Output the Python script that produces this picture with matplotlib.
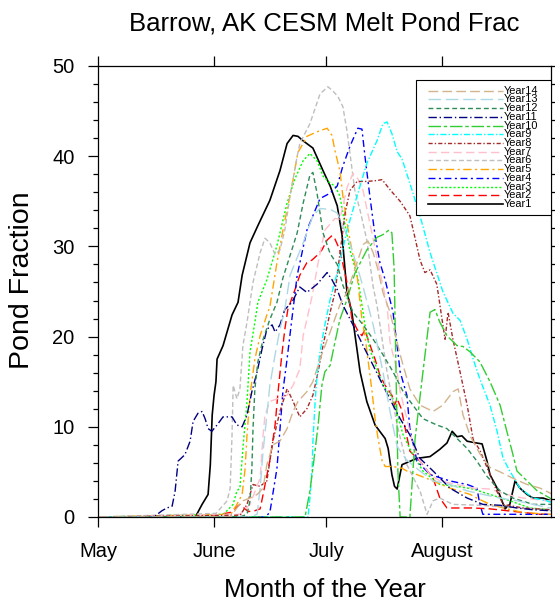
import matplotlib
matplotlib.use("Agg")
import matplotlib.pyplot as plt
from matplotlib.patches import Rectangle
from matplotlib.ticker import MultipleLocator

plt.rcParams['font.family'] = ['Liberation Sans', 'DejaVu Sans']

# day index from May 1, pond fraction in percent
year1_day = [0, 26, 27.8, 29.4, 30.0, 30.5, 31.0, 31.5, 31.8, 33.4, 35.8, 37.4, 38.5, 40.6, 42.7, 45.9, 48.6, 50.5, 52.1, 53.4,
             54.8, 57.4, 60.1, 62.0, 63.9, 65.2, 66.5, 67.8, 70.0, 71.8, 74.0, 76.7, 77.5, 78.5, 79.2, 79.9, 81.2, 85.2, 88.7, 91.3,
             93.2, 94.6, 95.9, 97.2, 98.6, 101.2, 102.6, 103.9, 104.7, 106.6, 107.9, 108.7, 110.0, 111.4, 112.7, 114.6, 116.2, 118.9, 121]
year1_val = [0, 0, 1.4, 2.5, 5.8, 11.3, 13.5, 15.0, 17.5, 19.0, 22.4, 23.8, 26.8, 30.4, 32.3, 35.1, 38.4, 41.4, 42.3, 42.2,
             41.7, 40.9, 38.4, 36.7, 34.5, 31.2, 24.9, 22.7, 16.1, 12.8, 10.2, 8.7, 7.6, 4.7, 3.4, 3.1, 5.8, 6.5, 6.7, 7.5,
             8.2, 9.5, 8.9, 9.0, 8.4, 8.2, 8.1, 6.2, 4.7, 3.2, 1.8, 0.9, 1.4, 4.0, 3.2, 2.5, 2.1, 2.1, 1.8]

year2_day = [0, 28.6, 35.3, 37.9, 40.1, 41.9, 43.3, 44.1, 46.0, 47.3, 48.1, 49.1, 49.9, 50.7, 52.6, 53.9, 55.8, 57.2, 58.5, 59.8,
             61.2, 62.5, 63.3, 64.6, 66.5, 67.8, 69.2, 70.5, 71.3, 72.1, 74.0, 75.3, 76.7, 78.5, 79.2, 79.9, 81.0, 83.3, 86.0, 89.5,
             91.3, 93.2, 100.2, 104.7, 109.2, 118.0, 121]
year2_val = [0, 0, 0.5, 1.4, 0.6, 0.7, 0.9, 2.5, 6.5, 10.2, 13.9, 18.0, 20.8, 23.0, 25.2, 26.8, 28.2, 28.5, 29.0, 29.6,
             30.7, 31.2, 30.8, 29.6, 26.0, 22.0, 20.8, 20.1, 20.8, 19.7, 17.5, 15.7, 14.6, 13.5, 12.4, 13.1, 12.0, 7.3, 6.2, 4.3,
             2.1, 1.0, 1.0, 0.9, 0.7, 0.3, 0.3]

year3_day = [0, 33.5, 36.1, 37.1, 37.9, 38.7, 39.8, 40.6, 41.9, 42.7, 45.1, 47.8, 49.4, 50.5, 52.6, 54.8, 56.6, 58.5, 60.1, 62.0,
             63.3, 64.6, 65.9, 67.3, 69.2, 70.0, 71.3, 72.6, 74.5, 76.1, 78.8, 81.5, 84.1, 86.8, 91.3, 95.9, 100.2, 104.7, 110.0, 115.4,
             121]
year3_val = [0, 0.3, 1.4, 2.9, 3.2, 7.6, 12.8, 18.3, 21.6, 23.8, 26.3, 30.1, 32.9, 34.8, 37.5, 39.5, 40.3, 39.5, 37.8, 37.0,
             36.7, 35.6, 32.6, 29.6, 26.8, 24.9, 21.3, 18.6, 16.4, 14.6, 13.1, 9.1, 6.9, 5.1, 3.6, 3.4, 3.1, 2.5, 1.8, 1.0,
             0.8]

year4_day = [0, 44.6, 45.9, 47.8, 49.4, 50.5, 51.8, 53.2, 55.8, 59.3, 62.0, 63.9, 65.4, 67.3, 69.4, 70.5, 71.3, 72.6, 74.0, 75.3,
             76.7, 77.5, 78.8, 80.1, 80.7, 82.5, 83.3, 85.2, 88.7, 94.0, 98.6, 101.2, 102.0, 102.8, 121]
year4_val = [0, 0, 0.5, 5.4, 14.0, 17.5, 22.0, 26.8, 31.8, 35.3, 35.9, 36.7, 38.9, 41.1, 43.1, 43.0, 40.0, 35.6, 31.2, 28.2,
             26.3, 24.9, 22.7, 18.3, 16.1, 13.5, 9.8, 6.2, 4.7, 4.0, 3.6, 3.2, 1.4, 0.3, 0.3]

year5_day = [0, 35.5, 37.1, 38.5, 39.3, 39.8, 40.6, 41.9, 43.3, 45.1, 45.9, 47.8, 49.4, 51.8, 53.4, 55.8, 58.5, 61.2, 62.5, 63.3,
             64.6, 65.4, 66.5, 67.8, 69.2, 70.5, 71.3, 72.1, 73.2, 74.0, 74.8, 75.9, 76.7, 78.8, 81.2, 82.5, 85.2, 89.5, 94.0, 99.4,
             101.2, 104.7, 109.2, 113.5, 121]
year5_val = [0, 0.3, 1.4, 2.5, 5.4, 9.1, 13.5, 17.5, 20.1, 22.4, 23.3, 28.2, 31.8, 36.7, 40.4, 42.2, 42.7, 43.1, 42.3, 40.6,
             38.4, 35.6, 32.6, 29.6, 26.8, 21.9, 20.1, 17.5, 13.9, 10.9, 8.7, 6.2, 5.6, 5.6, 5.4, 5.1, 4.7, 4.0, 3.2, 2.5,
             2.1, 1.4, 0.9, 0.5, 0.3]

year6_day = [0, 31.5, 34.5, 35.3, 35.8, 36.1, 37.1, 37.9, 38.7, 39.8, 41.4, 43.3, 44.6, 45.9, 47.3, 48.6, 49.9, 51.3, 53.2, 53.9,
             56.6, 59.3, 61.4, 62.8, 64.1, 65.4, 66.5, 67.3, 68.6, 70.0, 71.8, 73.5, 74.5, 77.2, 79.9, 82.5, 86.0, 87.9, 89.5, 91.3,
             94.8, 102.0, 112.7, 121]
year6_val = [0, 0.4, 1.8, 3.2, 9.1, 14.6, 13.1, 14.2, 19.0, 21.6, 26.0, 29.3, 30.9, 30.4, 29.1, 29.6, 31.8, 35.6, 40.0, 41.4,
             43.6, 46.9, 47.7, 47.2, 46.6, 45.5, 42.8, 40.3, 36.2, 34.0, 30.7, 25.5, 23.5, 16.1, 10.2, 5.8, 2.9, 0.3, 1.8, 2.1,
             1.4, 1.3, 1.0, 0.8]

year7_day = [0, 37.9, 40.6, 43.3, 44.1, 44.6, 45.9, 47.8, 50.5, 52.1, 53.9, 54.8, 57.2, 58.8, 60.6, 63.3, 64.6, 66.5, 68.1, 69.4,
             70.8, 72.6, 74.8, 77.2, 78.0, 79.9, 80.7, 82.5, 84.1, 86.0, 88.7, 91.3, 95.9, 100.2, 104.7, 109.2, 113.5, 119.9, 121]
year7_val = [0, 0.3, 1.4, 4.3, 9.1, 11.3, 12.8, 13.1, 13.5, 14.6, 16.4, 20.1, 24.5, 28.2, 31.8, 33.1, 33.0, 36.5, 38.1, 37.5,
             36.2, 32.6, 28.2, 23.5, 19.4, 16.1, 13.9, 10.9, 8.0, 6.2, 4.7, 4.0, 3.6, 3.2, 3.1, 2.5, 2.1, 1.8, 1.8]

year8_day = [0, 38.0, 39.8, 41.4, 43.3, 45.1, 46.7, 48.6, 50.5, 51.8, 53.9, 55.8, 57.4, 58.8, 60.1, 62.0, 63.3, 66.0, 67.3, 69.2,
             71.8, 74.5, 75.9, 77.2, 78.8, 80.7, 83.3, 84.7, 86.0, 87.3, 88.7, 90.5, 91.9, 92.7, 93.5, 94.8, 96.7, 98.6, 100.2, 102.0,
             103.9, 106.6, 108.2, 113.5, 121]
year8_val = [0, 0.2, 1.4, 3.6, 3.4, 4.0, 8.4, 11.7, 14.2, 13.1, 11.1, 12.0, 13.5, 16.1, 19.0, 22.7, 24.9, 33.7, 36.2, 37.2,
             37.2, 37.3, 37.4, 36.7, 35.9, 35.0, 33.4, 30.9, 28.5, 27.1, 27.4, 25.8, 21.9, 19.7, 22.7, 19.7, 16.1, 12.4, 8.6, 7.4,
             5.5, 2.8, 1.4, 1.0, 0.8]

year9_day = [0, 56.1, 56.6, 57.2, 57.4, 58.0, 58.5, 59.3, 60.6, 62.0, 64.6, 66.5, 69.2, 71.8, 74.5, 76.1, 77.2, 78.5, 79.9, 81.2,
             83.3, 86.0, 88.7, 92.1, 94.8, 96.7, 98.6, 100.2, 102.0, 104.7, 106.6, 108.2, 110.0, 112.7, 116.2, 119.9, 121]
year9_val = [0, 0, 2.1, 5.4, 8.4, 12.8, 15.7, 18.3, 21.3, 24.1, 28.2, 31.8, 35.6, 39.2, 41.7, 43.6, 43.8, 42.5, 40.5, 39.7,
             37.0, 33.4, 29.3, 25.0, 22.6, 21.8, 19.7, 17.5, 15.3, 12.4, 9.5, 6.5, 5.1, 3.2, 2.1, 1.8, 1.6]

year10_day = [0, 55.3, 56.6, 57.4, 58.8, 59.8, 60.6, 62.0, 63.3, 64.6, 66.5, 68.6, 71.8, 74.5, 76.1, 77.7, 78.5, 79.1, 79.6, 80.1,
              80.7, 83.3, 84.7, 86.8, 88.7, 90.0, 91.3, 93.2, 95.9, 97.5, 99.4, 102.0, 104.7, 107.4, 109.2, 110.6, 111.9, 114.6, 117.3, 120.7,
              121]
year10_val = [0, 0, 2.9, 5.4, 10.2, 14.6, 16.1, 16.8, 19.4, 21.9, 24.1, 27.0, 29.6, 31.0, 31.3, 31.8, 31.5, 27.5, 16.1, 5.1,
              0, 0, 8.7, 16.1, 22.7, 23.0, 21.6, 20.1, 19.0, 18.9, 18.3, 17.2, 15.0, 12.4, 9.5, 7.3, 5.1, 4.0, 2.9, 2.1,
              2.0]

year11_day = [0, 13.9, 15.2, 17.1, 18.4, 19.8, 20.6, 21.4, 23.2, 24.6, 25.4, 26.7, 27.8, 28.6, 29.4, 30.4, 31.8, 33.4, 35.8, 37.1,
              38.5, 39.8, 41.1, 42.5, 43.8, 45.1, 46.5, 47.3, 48.6, 49.9, 51.8, 53.9, 55.8, 58.5, 61.2, 62.5, 63.9, 65.4, 68.1, 70.8,
              73.5, 76.1, 78.8, 80.7, 83.3, 86.0, 89.5, 94.0, 98.6, 102.8, 107.4, 111.9, 116.2, 120.7, 121]
year11_val = [0, 0, 0.1, 0.7, 1.0, 1.2, 2.9, 6.2, 6.9, 8.4, 10.6, 11.5, 11.7, 10.9, 9.8, 9.5, 10.2, 11.1, 11.1, 10.2,
              10.0, 11.3, 13.9, 16.1, 18.6, 20.8, 21.3, 20.5, 21.3, 23.0, 23.8, 25.5, 24.9, 25.8, 27.1, 26.3, 25.2, 23.5, 21.3, 19.0,
              16.8, 14.6, 12.4, 10.9, 9.1, 6.5, 5.1, 3.2, 2.1, 1.4, 1.3, 1.0, 0.8, 0.7, 0.7]

year12_day = [0, 37.9, 39.8, 40.6, 41.1, 41.4, 41.9, 42.7, 44.1, 45.9, 47.8, 49.4, 51.3, 53.2, 54.8, 56.6, 57.4, 58.5, 59.3, 60.1,
              62.0, 63.9, 65.4, 68.1, 70.8, 73.5, 76.1, 78.8, 81.5, 84.1, 86.8, 90.5, 93.2, 95.9, 98.6, 101.2, 103.9, 107.4, 110.8, 116.2,
              121]
year12_val = [0, 0, 0.3, 1.8, 5.4, 9.8, 14.2, 17.2, 19.7, 21.9, 23.8, 26.5, 29.0, 31.5, 34.8, 37.9, 38.2, 35.9, 33.7, 31.5,
              29.2, 28.0, 25.7, 22.7, 21.3, 19.7, 18.0, 16.1, 13.9, 12.4, 10.9, 10.2, 9.8, 8.7, 7.6, 6.2, 4.5, 2.9, 2.1, 1.4,
              1.4]

year13_day = [0, 40.6, 42.5, 43.3, 44.1, 45.1, 45.9, 47.3, 48.6, 49.9, 51.3, 54.8, 57.4, 59.3, 62.0, 63.9, 65.4, 67.3, 69.2, 70.8,
              73.5, 76.1, 78.0, 79.9, 82.5, 86.0, 89.5, 94.0, 98.6, 102.8, 107.4, 111.9, 116.2, 120.7, 121]
year13_val = [0, 0, 0.3, 3.2, 7.3, 11.3, 14.6, 18.0, 20.8, 23.0, 26.8, 30.4, 33.4, 34.2, 34.1, 33.7, 32.3, 30.3, 27.8, 25.5,
              21.3, 16.1, 11.7, 7.8, 6.3, 5.1, 4.0, 3.6, 2.9, 2.5, 2.1, 1.8, 1.4, 1.0, 1.0]

year14_day = [0, 35.3, 37.1, 38.7, 40.6, 42.5, 44.1, 45.1, 45.9, 46.7, 48.6, 50.5, 52.1, 53.4, 55.8, 57.4, 59.3, 62.0, 64.6, 66.5,
              69.2, 70.8, 72.1, 73.5, 74.8, 76.1, 78.0, 80.7, 83.3, 86.0, 89.5, 92.1, 94.8, 96.2, 97.5, 99.4, 102.0, 104.7, 107.4, 110.8,
              114.6, 118.1, 121]
year14_val = [0, 0, 1.0, 1.8, 2.1, 2.5, 3.2, 5.8, 6.9, 8.0, 8.4, 9.8, 11.7, 12.8, 13.9, 15.0, 17.5, 20.5, 23.5, 24.9,
              28.2, 30.2, 30.6, 29.3, 27.4, 24.9, 22.7, 18.0, 14.2, 12.4, 11.7, 12.4, 13.9, 14.2, 11.3, 9.0, 7.0, 5.5, 5.0, 4.3,
              3.6, 3.2, 2.6]

month_ticks = [0, 31, 61, 92]
month_labels = ["May", "June", "July", "August"]

labels = ["Year%d" % i for i in range(1, 15)]
days = [year1_day, year2_day, year3_day, year4_day, year5_day, year6_day, year7_day,
        year8_day, year9_day, year10_day, year11_day, year12_day, year13_day, year14_day]
vals = [year1_val, year2_val, year3_val, year4_val, year5_val, year6_val, year7_val,
        year8_val, year9_val, year10_val, year11_val, year12_val, year13_val, year14_val]
colors = ["black", "red", "#00ff00", "blue", "orange", "#bebebe", "pink",
          "brown", "cyan", "limegreen", "navy", "seagreen", "lightblue", "tan"]
dashes = [None, (6, 3), (1.5, 1.5), (5, 2.5, 1.5, 2.5), (6, 2.5, 1.5, 2.5), (3.5, 2), (6, 3),
          (3, 1.5, 1, 1.5), (4.5, 1.5, 1, 1.5), (9, 2, 2.5, 2), (6, 2, 1, 2), (3.5, 2.2), (9, 3.5), (7, 3)]

fig = plt.figure(figsize=(5.55, 6.02), dpi=100)
ax = fig.add_axes([0.1766, 0.1412, 0.8162, 0.7492])

for i in range(14):
    lw = 1.2 if i == 0 else 1.0
    line, = ax.plot(days[i], vals[i], color=colors[i], lw=lw)
    if dashes[i] is not None:
        line.set_dashes(dashes[i])

ax.set_xlim(0, 121)
ax.set_ylim(0, 50)
ax.set_xticks(month_ticks)
ax.set_xticklabels(month_labels)
ax.yaxis.set_major_locator(MultipleLocator(10))
ax.yaxis.set_minor_locator(MultipleLocator(2))
ax.tick_params(which='both', direction='out', top=True, right=True, width=0.9, labelsize=14.5)
ax.tick_params(which='major', length=7)
ax.tick_params(which='minor', length=3.8)
ax.tick_params(axis='x', pad=11)
ax.tick_params(axis='y', pad=10)
for s in ax.spines.values():
    s.set_linewidth(0.9)

# legend box, Year14 on top
ax.add_patch(Rectangle((0.702, 0.670), 0.298, 0.299, transform=ax.transAxes,
                       facecolor='white', edgecolor='black', lw=0.8, zorder=5))
for k in range(14):
    i = 13 - k
    y = 0.945 - k * 0.0193
    lw = 1.2 if i == 0 else 1.0
    ln, = ax.plot([0.728, 0.894], [y, y], transform=ax.transAxes, color=colors[i], lw=lw, zorder=6)
    if dashes[i] is not None:
        ln.set_dashes(dashes[i])
    ax.text(0.895, y, labels[i], transform=ax.transAxes, fontsize=7.9, va='center', ha='left', zorder=6)

fig.text(0.5847, 1 - 23 / 602, "Barrow, AK CESM Melt Pond Frac", ha='center', va='center', fontsize=18.5)
fig.text(22 / 555, 1 - 280 / 602, "Pond Fraction", ha='center', va='center', rotation=90, fontsize=20.5)
fig.text(0.5847, 1 - 590 / 602, "Month of the Year", ha='center', va='center', fontsize=18.5)

fig.savefig("out.png", dpi=100)
